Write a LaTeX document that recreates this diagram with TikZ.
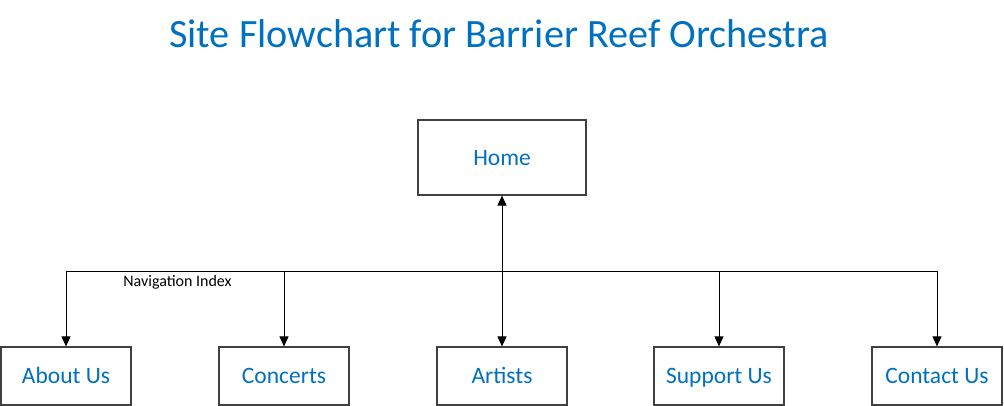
\documentclass[tikz,border=0pt]{standalone}
\usepackage{fontspec}
\setmainfont{Carlito}
\usetikzlibrary{arrows.meta}
\definecolor{titleblue}{HTML}{0070C0}
\definecolor{boxline}{HTML}{404040}
\tikzset{
  pagebox/.style={draw=boxline, line width=1.2pt, fill=white, minimum width=130pt, minimum height=58pt, inner sep=0pt,
    text=titleblue, font=\fontsize{23.5}{28}\selectfont, text height=15.1pt, text depth=0pt},
  homebox/.style={pagebox, minimum width=168pt, minimum height=75pt},
  link/.style={draw=black, line width=1pt},
  arr/.style={link, -{Triangle[width=9pt,length=10pt]}},
}
\begin{document}
\begin{tikzpicture}[x=1pt,y=-1pt]
\useasboundingbox (0,0) rectangle (1004,406);
\node[text=titleblue, font=\fontsize{40.2}{48}\selectfont, inner sep=0pt, text height=25.9pt, text depth=0pt] (title) at (499,35) {Site Flowchart for Barrier Reef Orchestra};
\node[homebox] (home) at (502,157.5) {Home};
\node[pagebox] (about) at (66,376) {About Us};
\node[pagebox] (concerts) at (284,376) {Concerts};
\node[pagebox] (artists) at (502,376) {Artists};
\node[pagebox] (support) at (719,376) {Support Us};
\node[pagebox] (contact) at (937,376) {Contact Us};
\coordinate (jA) at (66,271);
\coordinate (jC) at (284,271);
\coordinate (jS) at (719,271);
\coordinate (jT) at (937,271);
\draw[link] (jA) -- (jT);
\draw[arr] (jA) -- (about);
\draw[arr] (jC) -- (concerts);
\draw[arr] (jS) -- (support);
\draw[arr] (jT) -- (contact);
\draw[link, {Triangle[width=9pt,length=10pt]}-{Triangle[width=9pt,length=10pt]}] (home) -- (artists);
\node[font=\fontsize{16}{19}\selectfont, inner sep=0pt, text height=10.3pt, text depth=0pt] (nav) at (177.5,281.5) {Navigation Index};
\end{tikzpicture}
\end{document}
